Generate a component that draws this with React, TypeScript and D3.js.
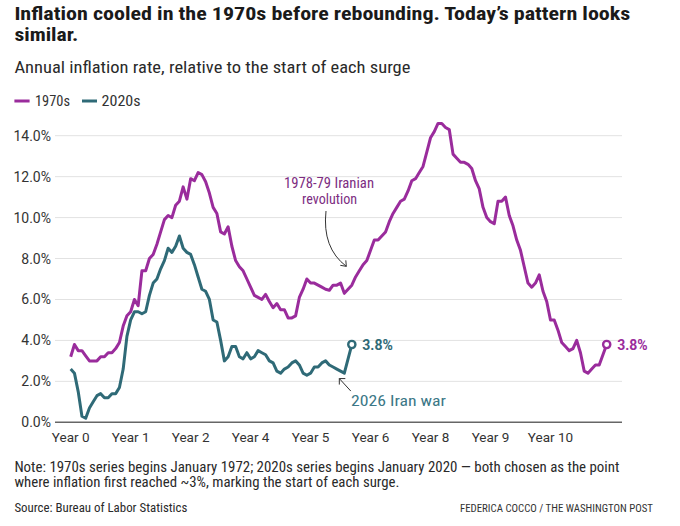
import * as d3 from "d3";

// Annual CPI inflation, one value per month from the start of each surge
const series1970s = [
  3.2, 3.8, 3.5, 3.5, 3.25, 3.0, 3.0, 3.0, 3.2, 3.2, 3.4, 3.4,
  3.6, 3.9, 4.7, 5.2, 5.4, 6.0, 5.7, 7.4, 7.4, 8.0, 8.2, 8.7,
  9.3, 9.9, 10.1, 10.0, 10.6, 10.8, 11.5, 10.9, 11.9, 11.8, 12.2, 12.1,
  11.75, 11.2, 10.5, 10.2, 9.3, 9.2, 9.55, 8.6, 7.9, 7.6, 7.4, 7.0,
  6.6, 6.2, 6.1, 6.0, 6.25, 5.9, 5.6, 5.8, 5.5, 5.5, 5.1, 5.1,
  5.2, 6.1, 6.5, 7.0, 6.8, 6.8, 6.7, 6.6, 6.5, 6.45, 6.7, 6.7,
  6.8, 6.3, 6.5, 6.7, 7.1, 7.4, 7.7, 7.9, 8.4, 8.9, 8.9, 9.1,
  9.3, 9.8, 10.2, 10.5, 10.8, 10.9, 11.3, 11.8, 11.9, 12.2, 12.5, 13.2,
  13.9, 14.2, 14.6, 14.6, 14.4, 14.3, 13.1, 12.9, 12.7, 12.7, 12.6, 12.4,
  11.8, 11.4, 10.5, 10.0, 9.8, 9.7, 10.8, 10.8, 11.0, 10.1, 9.6, 8.9,
  8.4, 7.6, 6.8, 6.6, 6.8, 7.2, 6.4, 5.9, 5.0, 5.0, 4.5, 3.9,
  3.7, 3.5, 3.6, 4.0, 3.4, 2.5, 2.4, 2.6, 2.8, 2.8, 3.3, 3.8,
];

const series2020s = [
  2.6, 2.4, 1.5, 0.3, 0.2, 0.7, 1.0, 1.3, 1.4, 1.2, 1.2, 1.4,
  1.4, 1.7, 2.6, 4.2, 5.0, 5.4, 5.4, 5.3, 5.4, 6.2, 6.8, 7.0,
  7.5, 7.9, 8.5, 8.3, 8.6, 9.1, 8.5, 8.3, 8.2, 7.7, 7.1, 6.5,
  6.4, 6.0, 5.0, 4.9, 4.0, 3.0, 3.2, 3.7, 3.7, 3.2, 3.1, 3.4,
  3.1, 3.2, 3.5, 3.4, 3.3, 3.0, 2.9, 2.5, 2.4, 2.6, 2.7, 2.9,
  3.0, 2.8, 2.4, 2.3, 2.4, 2.7, 2.7, 2.9, 3.0, 2.8, 2.7, 2.6,
  2.5, 2.4, 3.1, 3.8,
];

const yTicks = [0, 2, 4, 6, 8, 10, 12, 14];
const xTickMonths = [0, 16, 32, 48, 64, 80, 96, 112, 128];
const xTickLabels = ["Year 0", "Year 1", "Year 2", "Year 4", "Year 5", "Year 6", "Year 8", "Year 9", "Year 10"];

const PURPLE = "#9a2c9c";
const PURPLE_TEXT = "#7d2d82";
const TEAL = "#2f6a77";
const TEAL_TEXT = "#3c7887";
const FONT = "'Liberation Sans Narrow', 'Roboto Condensed', Roboto, sans-serif";

export default function App() {
  const width = 680;
  const height = 526;

  const x = d3.scaleLinear().domain([0, 143]).range([70.7, 606.7]);
  const y = d3.scaleLinear().domain([0, 14]).range([422.3, 135.7]);

  const line = d3
    .line<number>()
    .x((_, i) => x(i))
    .y((d) => y(d));

  const last70 = series1970s.length - 1;
  const last20 = series2020s.length - 1;

  // annotation anchors
  const iranX = x(73);
  const iranY = y(series1970s[73]);
  const warX = x(71);
  const warY = y(series2020s[71]);

  return (
    <svg
      width={width}
      height={height}
      style={{ position: "absolute", left: 0, top: 0, background: "#fff" }}
      fontFamily={FONT}
    >
      {/* title */}
      <text x={14.4} y={20} fontSize={19} fontWeight={700} fill="#1a1a1a" textLength={616} lengthAdjust="spacingAndGlyphs">
        Inflation cooled in the 1970s before rebounding. Today’s pattern looks
      </text>
      <text x={14.4} y={41} fontSize={19} fontWeight={700} fill="#1a1a1a" textLength={64} lengthAdjust="spacingAndGlyphs">
        similar.
      </text>
      <text x={14.4} y={73} fontSize={16} fill="#2a2a2a" textLength={396} lengthAdjust="spacingAndGlyphs">
        Annual inflation rate, relative to the start of each surge
      </text>

      {/* legend */}
      <line x1={14.4} x2={29.6} y1={101} y2={101} stroke={PURPLE} strokeWidth={3} />
      <text x={35} y={105.5} fontSize={14} fill="#333" textLength={35} lengthAdjust="spacingAndGlyphs">1970s</text>
      <line x1={82} x2={97} y1={101} y2={101} stroke={TEAL} strokeWidth={3} />
      <text x={101.6} y={105.5} fontSize={14} fill="#333" textLength={39} lengthAdjust="spacingAndGlyphs">2020s</text>

      {/* gridlines + y labels */}
      {yTicks.map((t) => (
        <g key={t}>
          {t > 0 && <line x1={55} x2={622} y1={y(t)} y2={y(t)} stroke="#e2e2e2" strokeWidth={1} />}
          <text x={51} y={y(t) + 5} fontSize={14} fill="#333" textAnchor="end" fontFamily="Roboto, sans-serif">
            {t.toFixed(1)}%
          </text>
        </g>
      ))}
      <line x1={55} x2={622} y1={y(0)} y2={y(0)} stroke="#666" strokeWidth={1.6} />

      {/* x labels */}
      {xTickMonths.map((m, i) => (
        <text key={m} x={x(m)} y={441.5} fontSize={13.5} fill="#333" textAnchor="middle" fontFamily="Roboto, sans-serif">
          {xTickLabels[i]}
        </text>
      ))}

      {/* lines */}
      <path d={line(series1970s) ?? ""} fill="none" stroke={PURPLE} strokeWidth={3} strokeLinejoin="round" />
      <path d={line(series2020s) ?? ""} fill="none" stroke={TEAL} strokeWidth={3} strokeLinejoin="round" />

      {/* end markers */}
      <circle cx={x(last70)} cy={y(series1970s[last70])} r={3.6} fill="#fff" stroke={PURPLE} strokeWidth={2.4} />
      <circle cx={x(last20)} cy={y(series2020s[last20])} r={3.6} fill="#fff" stroke={TEAL} strokeWidth={2.4} />
      <text x={x(last70) + 10.5} y={y(series1970s[last70]) + 5} fontSize={14} fontWeight={700} fill={PURPLE} fontFamily="Roboto, sans-serif">
        {series1970s[last70].toFixed(1)}%
      </text>
      <text x={x(last20) + 10.5} y={y(series2020s[last20]) + 5} fontSize={14} fontWeight={700} fill={TEAL} fontFamily="Roboto, sans-serif">
        {series2020s[last20].toFixed(1)}%
      </text>

      {/* Iranian revolution annotation */}
      <text x={329} y={188} fontSize={14} fill={PURPLE_TEXT} textAnchor="middle" textLength={90} lengthAdjust="spacingAndGlyphs">
        1978-79 Iranian
      </text>
      <text x={329.6} y={204} fontSize={14} fill={PURPLE_TEXT} textAnchor="middle" textLength={55} lengthAdjust="spacingAndGlyphs">
        revolution
      </text>
      <path
        d={`M326,211 Q322,248 ${iranX + 2},${iranY - 27}`}
        fill="none"
        stroke="#333"
        strokeWidth={1}
      />
      <path
        d={`M${iranX - 4},${iranY - 28} L${iranX + 2},${iranY - 27} L${iranX + 1.5},${iranY - 33}`}
        fill="none"
        stroke="#333"
        strokeWidth={1}
      />

      {/* 2026 Iran war annotation */}
      <path d={`M${warX + 14},${warY + 22} L${warX + 2.5},${warY + 9.5}`} fill="none" stroke="#333" strokeWidth={1} />
      <path
        d={`M${warX + 2.5},${warY + 15.5} L${warX + 2.5},${warY + 9.5} L${warX + 8.5},${warY + 9.5}`}
        fill="none"
        stroke="#333"
        strokeWidth={1}
      />
      <text x={351} y={406} fontSize={14} fill={TEAL_TEXT} textLength={95} lengthAdjust="spacingAndGlyphs">
        2026 Iran war
      </text>

      {/* notes */}
      <text x={14.4} y={471.7} fontSize={14} fill="#2a2a2a" textLength={605} lengthAdjust="spacingAndGlyphs">
        Note: 1970s series begins January 1972; 2020s series begins January 2020 — both chosen as the point
      </text>
      <text x={14.4} y={486.7} fontSize={14} fill="#2a2a2a" textLength={385} lengthAdjust="spacingAndGlyphs">
        where inflation first reached ~3%, marking the start of each surge.
      </text>
      <text x={14.4} y={511.7} fontSize={13} fill="#2a2a2a" textLength={173} lengthAdjust="spacingAndGlyphs">
        Source: Bureau of Labor Statistics
      </text>
      <text x={460} y={511.5} fontSize={11.5} fill="#333" textLength={193} lengthAdjust="spacingAndGlyphs">
        FEDERICA COCCO / THE WASHINGTON POST
      </text>
    </svg>
  );
}
